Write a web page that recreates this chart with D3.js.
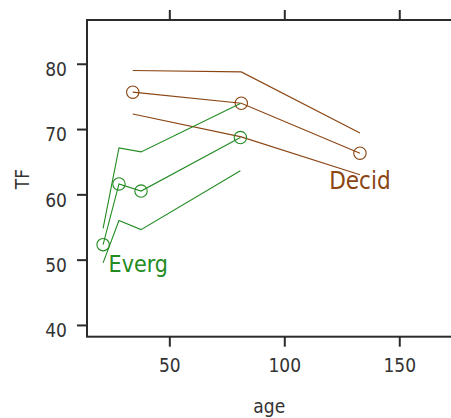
<!DOCTYPE html>
<html lang="en">
  <head>
    <meta charset="utf-8" />
    <title>TF by age</title>
    <script src="https://cdn.jsdelivr.net/npm/d3@7"></script>
    <style>
      body { margin: 0; background: #fff; }
      text { font-family: "DejaVu Sans Condensed", "DejaVu Sans", Verdana, sans-serif; }
    </style>
  </head>
  <body>
    <script>
      // chart size
      var w = 451;
      var h = 418;

      // data
      var groups = ["Decid", "Everg"];
      var colors = ["#8b4513", "#228b22"];

      var decidAge = [34.1, 81.3, 132.9];
      var decidMean = [75.65, 73.95, 66.3];
      var decidUpper = [78.97, 78.75, 69.4];
      var decidLower = [72.3, 68.8, 63.0];

      var evergAge = [21.2, 28.1, 37.7, 80.9];
      var evergMean = [52.3, 61.6, 60.5, 68.7];
      var evergUpper = [54.8, 67.1, 66.5, 73.9];
      var evergLower = [49.5, 56.0, 54.6, 63.6];

      var xTicks = [50, 100, 150];
      var yTicks = [40, 50, 60, 70, 80];

      // panel edges
      var padL = 87, padT = 20, padB = 336.7, padR = 451;

      var xScale = d3.scaleLinear().domain([14.2, 172.5]).range([padL, padR]);
      var yScale = d3.scaleLinear().domain([38.2, 86.7]).range([padB, padT]);

      var svg = d3.select("body").append("svg")
        .attr("width", w)
        .attr("height", h);

      var series = [
        { name: groups[0], color: colors[0], age: decidAge, mean: decidMean, upper: decidUpper, lower: decidLower },
        { name: groups[1], color: colors[1], age: evergAge, mean: evergMean, upper: evergUpper, lower: evergLower }
      ];

      var line = d3.line()
        .x(function (d) { return xScale(d[0]); })
        .y(function (d) { return yScale(d[1]); });

      series.forEach(function (s) {
        var g = svg.append("g");
        [s.upper, s.mean, s.lower].forEach(function (vals) {
          g.append("path")
            .attr("d", line(d3.zip(s.age, vals)))
            .attr("fill", "none")
            .attr("stroke", s.color)
            .attr("stroke-width", 1.1);
        });
        g.selectAll("circle")
          .data(d3.zip(s.age, s.mean))
          .enter()
          .append("circle")
          .attr("cx", function (d) { return xScale(d[0]); })
          .attr("cy", function (d) { return yScale(d[1]); })
          .attr("r", 6.2)
          .attr("fill", "none")
          .attr("stroke", s.color)
          .attr("stroke-width", 1.1);
      });

      // group labels next to the curves
      var n = decidAge.length - 1;
      svg.append("text")
        .text(groups[0])
        .attr("x", xScale(decidAge[n]))
        .attr("y", yScale(decidLower[n]) + 14.5)
        .attr("text-anchor", "middle")
        .attr("font-size", "24px")
        .attr("fill", colors[0]);

      svg.append("text")
        .text(groups[1])
        .attr("x", xScale(evergAge[0]) + 5.5)
        .attr("y", yScale(evergMean[0]) + 27)
        .attr("text-anchor", "start")
        .attr("font-size", "23px")
        .attr("fill", colors[1]);

      // axes
      var ink = "#2b2b2b";
      var gb = svg.append("g")
        .attr("transform", "translate(0," + padB + ")")
        .call(d3.axisBottom(xScale).tickValues(xTicks).tickSize(10).tickPadding(12).tickSizeOuter(0));
      var gt = svg.append("g")
        .attr("transform", "translate(0," + padT + ")")
        .call(d3.axisTop(xScale).tickValues(xTicks).tickSize(10).tickFormat("").tickSizeOuter(0));
      var gl = svg.append("g")
        .attr("transform", "translate(" + padL + ",0)")
        .call(d3.axisLeft(yScale).tickValues(yTicks).tickSize(10).tickPadding(10).tickSizeOuter(0));

      [gb, gt, gl].forEach(function (g) {
        g.select(".domain").remove();
        g.selectAll(".tick line").attr("stroke", ink).attr("stroke-width", 2);
        g.selectAll(".tick text")
          .attr("fill", "#333")
          .attr("font-size", "19px")
          .attr("font-family", "DejaVu Sans Condensed, DejaVu Sans, Verdana, sans-serif");
      });
      gl.selectAll(".tick text").attr("dy", "0.62em");

      // panel box
      svg.append("rect")
        .attr("x", padL)
        .attr("y", padT)
        .attr("width", padR - padL + 10)
        .attr("height", padB - padT)
        .attr("fill", "none")
        .attr("stroke", ink)
        .attr("stroke-width", 2);

      // axis titles
      svg.append("text")
        .text("age")
        .attr("x", xScale(100) - 15)
        .attr("y", 413)
        .attr("text-anchor", "middle")
        .attr("font-size", "19px")
        .attr("fill", "#333");

      svg.append("text")
        .text("TF")
        .attr("transform", "translate(29," + 179 + ") rotate(-90)")
        .attr("text-anchor", "middle")
        .attr("font-size", "19px")
        .attr("fill", "#333");
    </script>
  </body>
</html>
